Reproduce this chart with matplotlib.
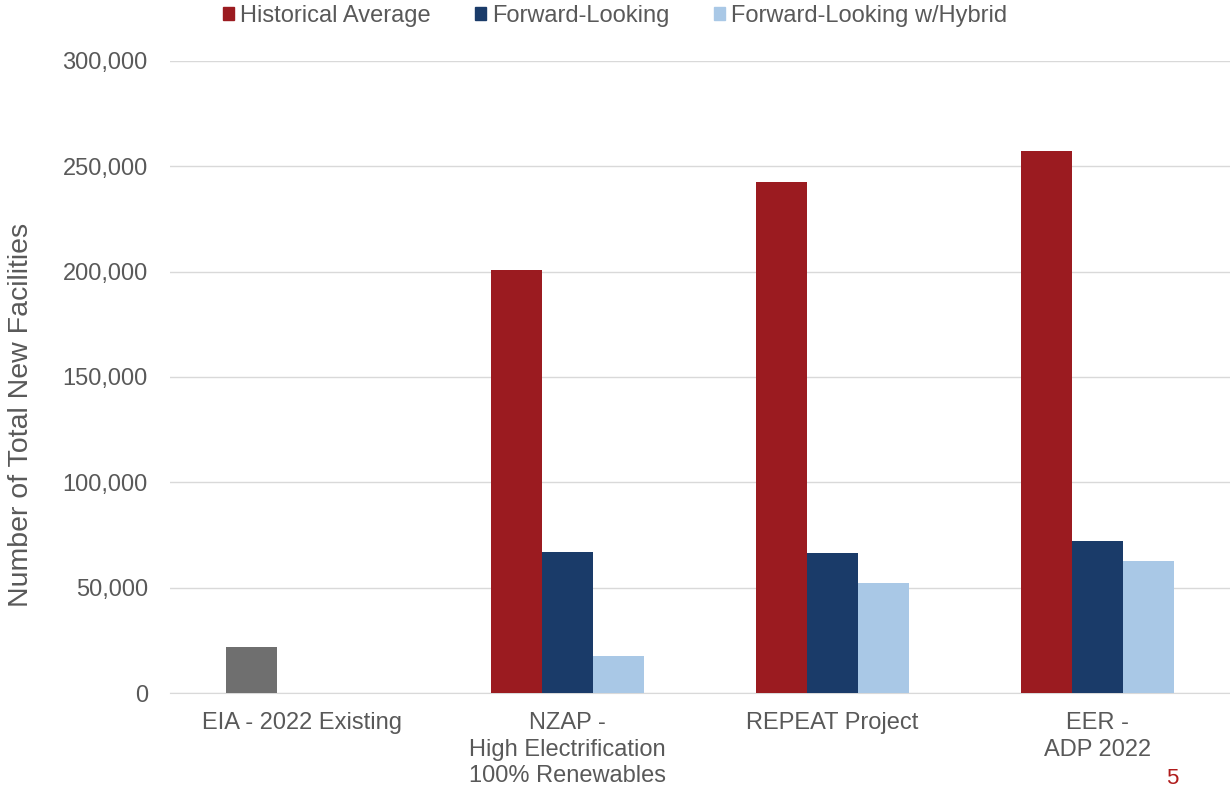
import numpy as np
import matplotlib.pyplot as plt
from matplotlib.patches import Patch

plt.rcParams['font.family'] = ['Liberation Sans', 'DejaVu Sans']

# data
categories = ['EIA - 2022 Existing', 'NZAP -\nHigh Electrification\n100% Renewables',
              'REPEAT Project', 'EER -\nADP 2022']
series = ['Historical Average', 'Forward-Looking', 'Forward-Looking w/Hybrid']
historical = [np.nan, 201000, 242500, 257300]
forward = [np.nan, 67000, 66400, 72100]
hybrid = [np.nan, 17500, 52200, 62600]
existing = [21800, np.nan, np.nan, np.nan]

colors = ['#9B1B20', '#1A3B69', '#A9C8E6']
gray = '#6F6F6F'
text_col = '#595959'

fig = plt.figure(figsize=(12.3, 7.87), dpi=100)
ax = fig.add_axes([170 / 1230, 94 / 787, 1060 / 1230, 632 / 787])

x = np.arange(len(categories))
w = 0.193
for i, (vals, c) in enumerate(zip([historical, forward, hybrid], colors)):
    ax.bar(x + (i - 1) * w, vals, w, color=c, zorder=3)
ax.bar(x - w, existing, w, color=gray, zorder=3)

ax.set_xlim(-0.5, len(categories) - 0.5)
ax.set_ylim(0, 300000)
ax.set_yticks(np.arange(0, 300001, 50000))
ax.yaxis.set_major_formatter(plt.FuncFormatter(lambda v, p: f'{int(v):,}'))
ax.set_xticks(x)
ax.set_xticklabels(categories, fontsize=17, color=text_col, linespacing=1.25)
ax.tick_params(axis='y', labelsize=17, labelcolor=text_col, length=0, pad=16)
ax.tick_params(axis='x', length=0, pad=14)
ax.grid(axis='y', color='#D9D9D9', linewidth=1, zorder=0)
for s in ['top', 'right', 'left']:
    ax.spines[s].set_visible(False)
ax.spines['bottom'].set_color('#D9D9D9')
ax.set_ylabel('Number of Total New Facilities', fontsize=20.5, color=text_col)
ax.yaxis.set_label_coords(-0.128, 0.44)

handles = [Patch(color=c) for c in colors]
fig.legend(handles, series, loc='center', bbox_to_anchor=(615 / 1230, 1 - 16 / 787),
           ncol=3, frameon=False, fontsize=17, handlelength=0.45, handleheight=0.45,
           handletextpad=0.25, columnspacing=1.9, labelcolor=text_col)

fig.text(1172 / 1230, 1 - 768 / 787, '5', color='#B01C1C', fontsize=16, va='top', ha='center')

fig.savefig('out.png', dpi=100)
